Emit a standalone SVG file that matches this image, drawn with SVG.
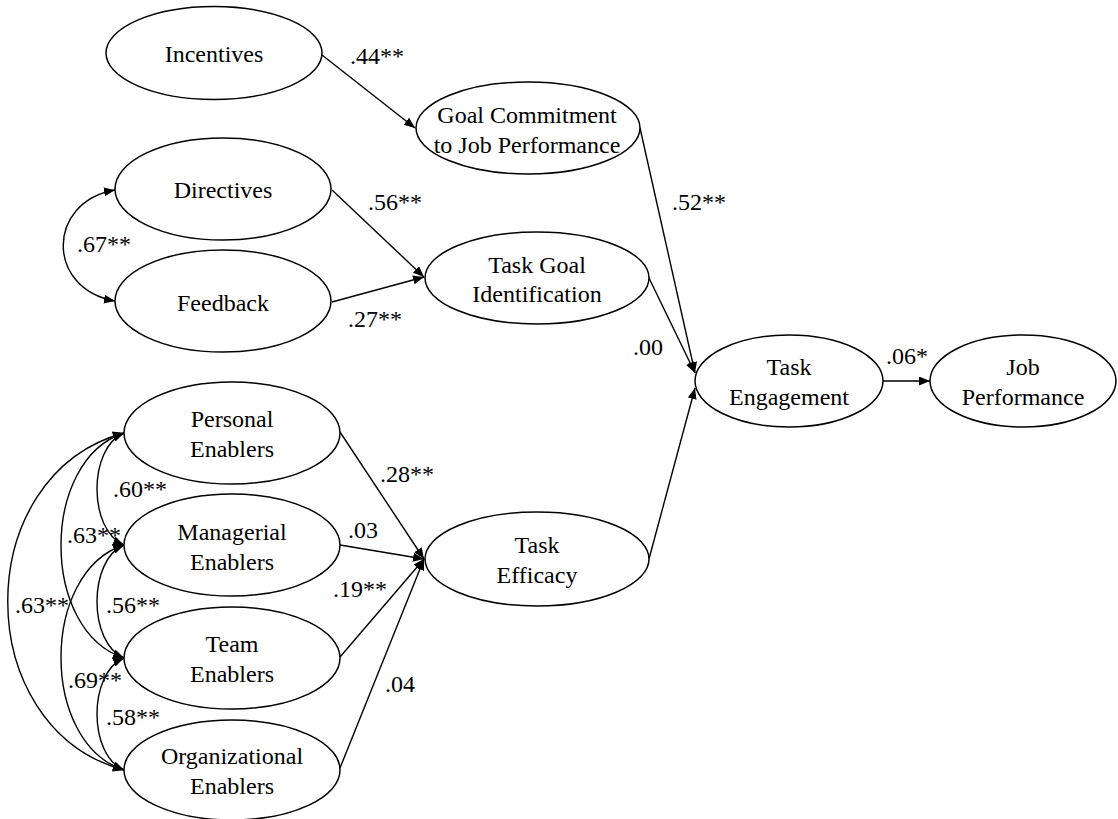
<svg xmlns="http://www.w3.org/2000/svg" width="1118" height="819" viewBox="0 0 1118 819">
<style>
.node ellipse{fill:#fff;stroke:#000;stroke-width:1.5}
.t text{font-family:'Times New Roman','Liberation Serif','DejaVu Serif',serif;font-size:24px;fill:#000}
.node text{text-anchor:middle}
.conn path{fill:none;stroke:#000;stroke-width:1.4}
</style>
<defs>
<marker id="ah" markerUnits="userSpaceOnUse" markerWidth="12" markerHeight="10" refX="11" refY="4.5" orient="auto-start-reverse" viewBox="0 0 12 10">
<path d="M0,0 L11,4.5 L0,9 z" fill="#000"/>
</marker>
</defs>
<rect width="1118" height="819" fill="#fff"/>
<g class="conn">
<path d="M322,55 L415,128" marker-end="url(#ah)"/>
<path d="M332,190 L424,277" marker-end="url(#ah)"/>
<path d="M332,302 L424,277" marker-end="url(#ah)"/>
<path d="M640,128 L695,373" marker-end="url(#ah)"/>
<path d="M649,278 L695,373" marker-end="url(#ah)"/>
<path d="M649,559 L695,388" marker-end="url(#ah)"/>
<path d="M883,381 L930,381" marker-end="url(#ah)"/>
<path d="M340,432 L424,559" marker-end="url(#ah)"/>
<path d="M340,545 L424,559" marker-end="url(#ah)"/>
<path d="M340,657 L424,559" marker-end="url(#ah)"/>
<path d="M340,768 L424,559" marker-end="url(#ah)"/>
<path d="M115,190 C 46,202 46,289 115,301" marker-start="url(#ah)" marker-end="url(#ah)"/>
<path d="M124,433 C 88,448 88,530 124,545" marker-start="url(#ah)" marker-end="url(#ah)"/>
<path d="M124,545 C 88,560 88,643 124,658" marker-start="url(#ah)" marker-end="url(#ah)"/>
<path d="M124,658 C 88,673 88,755 124,770" marker-start="url(#ah)" marker-end="url(#ah)"/>
<path d="M124,433 C 40,460 40,631 124,658" marker-start="url(#ah)" marker-end="url(#ah)"/>
<path d="M124,545 C 40,572 40,743 124,770" marker-start="url(#ah)" marker-end="url(#ah)"/>
<path d="M124,433 C -31,475 -31,728 124,770" marker-start="url(#ah)" marker-end="url(#ah)"/>
</g>
<g class="t">
<g id="incentives" class="node"><ellipse cx="214" cy="53" rx="108" ry="46.5"/><text x="214" y="62">Incentives</text></g>
<g id="directives" class="node"><ellipse cx="223" cy="189" rx="108" ry="51"/><text x="223" y="198">Directives</text></g>
<g id="feedback" class="node"><ellipse cx="223" cy="301" rx="108" ry="51"/><text x="223" y="311">Feedback</text></g>
<g id="goal-commitment" class="node"><ellipse cx="528" cy="128" rx="112" ry="46"/><text x="527" y="123">Goal Commitment</text><text x="527" y="153">to Job Performance</text></g>
<g id="task-goal" class="node"><ellipse cx="537" cy="278" rx="112" ry="46"/><text x="537" y="273">Task Goal</text><text x="537" y="302">Identification</text></g>
<g id="task-engagement" class="node"><ellipse cx="789" cy="381" rx="94" ry="46"/><text x="789" y="375">Task</text><text x="789" y="405">Engagement</text></g>
<g id="job-performance" class="node"><ellipse cx="1023" cy="381" rx="93" ry="46"/><text x="1023" y="375">Job</text><text x="1023" y="405">Performance</text></g>
<g id="task-efficacy" class="node"><ellipse cx="537" cy="559" rx="112" ry="47"/><text x="537" y="553">Task</text><text x="537" y="583">Efficacy</text></g>
<g id="personal" class="node"><ellipse cx="232" cy="433" rx="108" ry="51"/><text x="232" y="427">Personal</text><text x="232" y="457">Enablers</text></g>
<g id="managerial" class="node"><ellipse cx="232" cy="545" rx="108" ry="51"/><text x="232" y="540">Managerial</text><text x="232" y="570">Enablers</text></g>
<g id="team" class="node"><ellipse cx="232" cy="658" rx="108" ry="51"/><text x="232" y="652">Team</text><text x="232" y="682">Enablers</text></g>
<g id="organizational" class="node"><ellipse cx="232" cy="770" rx="108" ry="50"/><text x="232" y="764">Organizational</text><text x="232" y="794">Enablers</text></g>
<g id="labels">
<text x="350" y="64">.44**</text>
<text x="368" y="210">.56**</text>
<text x="348" y="327">.27**</text>
<text x="77" y="252">.67**</text>
<text x="672" y="210">.52**</text>
<text x="633" y="355">.00</text>
<text x="886" y="364">.06*</text>
<text x="380" y="482">.28**</text>
<text x="348" y="538">.03</text>
<text x="333" y="597">.19**</text>
<text x="385" y="692">.04</text>
<text x="113" y="497">.60**</text>
<text x="67" y="543">.63**</text>
<text x="15" y="613">.63**</text>
<text x="106" y="613">.56**</text>
<text x="68" y="688">.69**</text>
<text x="106" y="725">.58**</text>
</g>
</g>
</svg>
